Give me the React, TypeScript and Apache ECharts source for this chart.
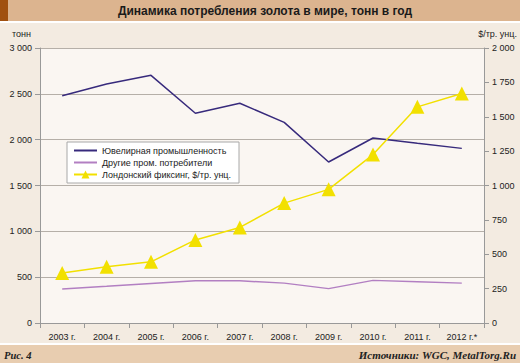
import React, { useEffect, useRef } from "react";
import * as echarts from "echarts";

const years = ["2003 г.", "2004 г.", "2005 г.", "2006 г.", "2007 г.", "2008 г.", "2009 г.", "2010 г.", "2011 г.", "2012 г.*"];
const jewelry = [2480, 2607, 2702, 2288, 2397, 2189, 1756, 2018, 1960, 1905];
const otherIndustry = [372, 400, 430, 460, 460, 435, 375, 465, 450, 435];
const londonFix = [363, 409, 445, 604, 695, 872, 972, 1225, 1572, 1669];
const names = ["Ювелирная промышленность", "Другие пром. потребители", "Лондонский фиксинг, $/тр. унц."];

const fmt = (v: number) => {
  const s = String(v);
  return s.length > 3 ? s.slice(0, s.length - 3) + " " + s.slice(-3) : s;
};

export default function App() {
  const ref = useRef<HTMLDivElement>(null);
  useEffect(() => {
    const chart = echarts.init(ref.current!, null, { renderer: "svg" });
    const font = "Liberation Sans";
    chart.setOption({
      animation: false,
      backgroundColor: "#f3ebe1",
      textStyle: { fontFamily: font },
      graphic: [
        { type: "rect", shape: { x: 0, y: 0, width: 520, height: 21 }, style: { fill: "#dcb48f" } },
        { type: "rect", shape: { x: 0, y: 0, width: 8, height: 21 }, style: { fill: "#a0500f" } },
        { type: "rect", shape: { x: 0, y: 21, width: 520, height: 2 }, style: { fill: "#ffffff" } },
        { type: "rect", shape: { x: 0, y: 343, width: 520, height: 2 }, style: { fill: "#ffffff" } },
        { type: "rect", shape: { x: 0, y: 345, width: 520, height: 18 }, style: { fill: "#e8cdb0" } },
        {
          type: "text", x: 265, y: 11,
          style: { text: "Динамика потребления золота в мире, тонн в год", fontFamily: font, fontSize: 12, fontWeight: "bold", fill: "#1a1a1a", align: "center", verticalAlign: "middle" },
        },
        { type: "text", x: 12, y: 34, style: { text: "тонн", fontFamily: font, fontSize: 9, fill: "#222", verticalAlign: "middle" } },
        { type: "text", x: 517, y: 34, style: { text: "$/тр. унц.", fontFamily: font, fontSize: 9, fill: "#222", align: "right", verticalAlign: "middle" } },
        { type: "text", x: 4, y: 355, style: { text: "Рис. 4", fontFamily: "Liberation Serif", fontSize: 10.5, fontStyle: "italic", fontWeight: "bold", fill: "#222", verticalAlign: "middle" } },
        { type: "text", x: 516, y: 355, style: { text: "Источники: WGC, MetalTorg.Ru", fontFamily: "Liberation Serif", fontSize: 11, fontStyle: "italic", fontWeight: "bold", fill: "#222", align: "right", verticalAlign: "middle" } },
      ],
      grid: { left: 40, right: 36, top: 48, bottom: 40, show: true, backgroundColor: "#faf6f2", borderWidth: 0 },
      legend: {
        orient: "vertical", left: 67, top: 142, backgroundColor: "#ffffff", borderColor: "#a8a8a8", borderWidth: 1,
        padding: [4, 8, 4, 6], itemGap: 3, itemWidth: 23, itemHeight: 10,
        textStyle: { fontFamily: font, fontSize: 9, color: "#222" },
        data: [
          { name: names[0], itemStyle: { opacity: 0 } },
          { name: names[1], itemStyle: { opacity: 0 } },
          { name: names[2] },
        ],
      },
      xAxis: {
        type: "category", data: years, boundaryGap: true,
        axisLine: { lineStyle: { color: "#999" } },
        axisTick: { show: true, lineStyle: { color: "#999" } },
        axisLabel: { color: "#222", fontSize: 9, margin: 9, fontFamily: font },
      },
      yAxis: [
        {
          type: "value", min: 0, max: 3000, interval: 500,
          axisLine: { show: true, lineStyle: { color: "#999" } },
          axisTick: { show: true, lineStyle: { color: "#999" } },
          axisLabel: { color: "#222", fontSize: 9, formatter: fmt, fontFamily: font },
          splitLine: { lineStyle: { color: "#b5afa8" } },
        },
        {
          type: "value", min: 0, max: 2000, interval: 250, position: "right",
          axisLine: { show: true, lineStyle: { color: "#999" } },
          axisTick: { show: true, lineStyle: { color: "#999" } },
          axisLabel: { color: "#222", fontSize: 9, formatter: fmt, fontFamily: font },
          splitLine: { show: false },
        },
      ],
      series: [
        { name: names[0], type: "line", data: jewelry, yAxisIndex: 0, symbol: "none", lineStyle: { color: "#372a7c", width: 1.5 }, itemStyle: { color: "#372a7c" } },
        { name: names[1], type: "line", data: otherIndustry, yAxisIndex: 0, symbol: "none", lineStyle: { color: "#b27fc2", width: 1.5 }, itemStyle: { color: "#b27fc2" } },
        { name: names[2], type: "line", data: londonFix, yAxisIndex: 1, symbol: "triangle", symbolSize: 14, lineStyle: { color: "#f2e000", width: 1.5 }, itemStyle: { color: "#f2e000" } },
      ],
    });
    return () => chart.dispose();
  }, []);
  return <div ref={ref} style={{ width: 520, height: 363, position: "absolute", left: 0, top: 0 }} />;
}
